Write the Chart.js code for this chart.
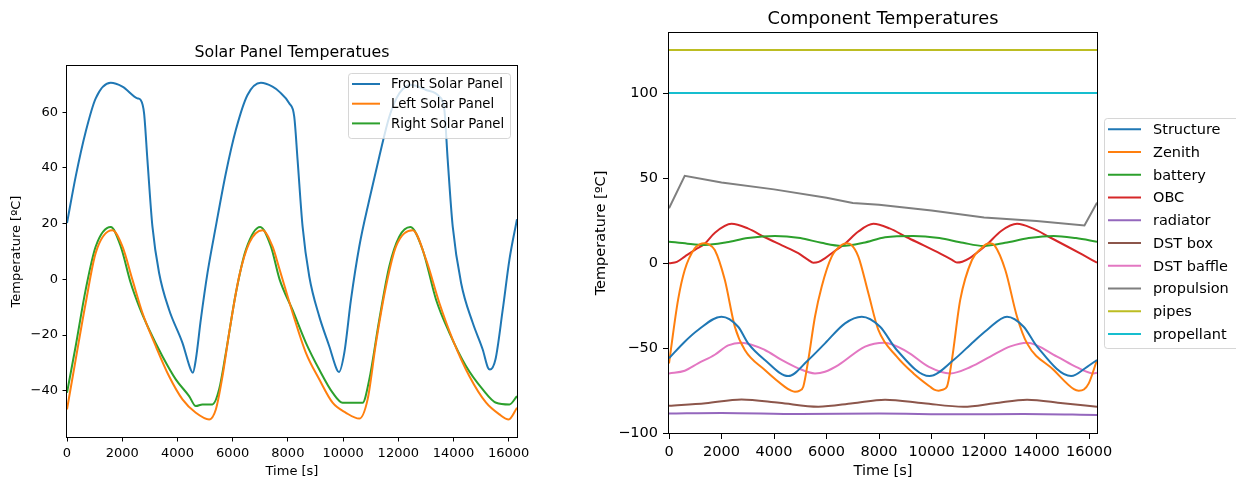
<!DOCTYPE html>
<html>
<head>
<meta charset="utf-8">
<script src="https://cdn.jsdelivr.net/npm/chart.js@4.4.1/dist/chart.umd.min.js"></script>
<style>
  html, body { margin: 0; padding: 0; background: #fff; }
  #wrap { position: relative; width: 1236px; height: 481px; overflow: hidden; }
  canvas { position: absolute; top: 0; }
  #solar { left: 0; }
  #comp { left: 590px; }
</style>
</head>
<body>
<div id="wrap">
  <canvas id="solar" width="590" height="481"></canvas>
  <canvas id="comp" width="646" height="481"></canvas>
</div>
<script>
// ---- data (time in s, temperature in degC) ----
var timeTicks = [0, 2000, 4000, 6000, 8000, 10000, 12000, 14000, 16000];
var solarTicks = [-40, -20, 0, 20, 40, 60];
var compTicks = [-100, -50, 0, 50, 100];

var solarLabels = ['Front Solar Panel', 'Left Solar Panel', 'Right Solar Panel'];
var compLabels = ['Structure', 'Zenith', 'battery', 'OBC', 'radiator', 'DST box', 'DST baffle', 'propulsion', 'pipes', 'propellant'];

var frontTime = [0, 314, 677, 1040, 1584, 2007, 2550, 2670, 2792, 2913, 3094, 3336, 3698, 4182, 4485, 4560, 4666, 4848, 5089, 5391, 5754, 6117, 6538, 7023, 7444, 7687, 8049, 8231, 8352, 8533, 8774, 9137, 9500, 9780, 9850, 10044, 10286, 10587, 10950, 11313, 11675, 12038, 12462, 13006, 13488, 13670, 13790, 13971, 14275, 14696, 15058, 15250, 15320, 15519, 15783, 16026, 16300];
var frontTemp = [20.2, 36.9, 53, 65, 70.6, 69.2, 65, 64.4, 59.6, 42.9, 19, 2.3, -10.9, -22.8, -32.5, -33.5, -28.8, -14.4, 2.3, 19, 38.1, 53.7, 66.2, 70.6, 69.2, 67.4, 63.2, 58.4, 42.9, 19, 1.1, -13.3, -24, -32.5, -33.3, -26.4, -7.3, 11.8, 28.6, 44.1, 58.4, 66.8, 69.8, 68, 65.6, 60.8, 42.9, 19, -1.3, -15.6, -25.2, -31.8, -32.4, -28.8, -10.9, 7.1, 21.6];

var leftTime = [0, 314, 677, 1040, 1644, 2007, 2369, 2731, 3215, 3698, 4182, 4666, 5149, 5391, 5632, 5874, 6237, 6599, 7083, 7444, 7687, 8171, 8654, 9137, 9620, 10104, 10587, 10889, 11192, 11555, 11918, 12520, 13006, 13488, 13971, 14576, 15181, 15664, 16000, 16300];
var leftTemp = [-46.7, -28.8, -8.5, 9.5, 17.6, 11.8, -0.1, -12, -24, -34.8, -43.1, -47.9, -50.3, -46.7, -34.8, -19.2, 1.1, 13, 17.6, 11.8, 4, -12, -26.4, -35.9, -44.3, -47.9, -50, -43.1, -22.8, -2.5, 11.8, 17.6, 7.1, -8.5, -21.6, -34.8, -44.3, -48.5, -50.3, -46.1];

var rightTime = [0, 314, 677, 1040, 1584, 1946, 2309, 2611, 2973, 3456, 3940, 4423, 4666, 4906, 5268, 5511, 5754, 6117, 6479, 6998, 7386, 7700, 8171, 8654, 9137, 9620, 9982, 10286, 10707, 10950, 11313, 11675, 12038, 12437, 12884, 13369, 13851, 14456, 15058, 15544, 16026, 16300];
var rightTemp = [-40.7, -24, -3.7, 11.8, 18.8, 11.8, -1.3, -9.7, -18, -27.6, -35.9, -41.9, -45.5, -44.9, -44.9, -39.5, -26.4, -4.9, 10.6, 18.8, 11.8, 0, -11, -22.8, -32.4, -40.7, -44.3, -44.3, -44.3, -35.9, -14.4, 4.7, 15.4, 18.8, 10.6, -7.3, -19.2, -31.2, -39.5, -44.3, -44.9, -41.9];

var structTime = [0, 599, 1107, 1998, 2633, 3014, 3651, 4541, 5304, 5941, 6704, 7341, 8039, 8675, 9920, 10836, 11598, 12110, 12873, 13507, 14017, 15315, 15925, 16300];
var structTemp = [-56, -46.2, -39.3, -31.5, -37.4, -47.2, -57, -66.5, -57, -47.2, -35.4, -31.5, -37.4, -51.1, -66.5, -57, -46.2, -39.3, -31.5, -37.4, -49.1, -66.5, -61, -57];

var zenithTime = [0, 345, 599, 980, 1180, 1336, 1500, 1744, 2125, 2507, 2888, 3651, 4414, 4620, 4796, 4980, 5113, 5304, 5559, 5814, 6196, 6600, 6768, 6930, 7211, 7593, 7974, 8675, 9310, 9947, 10100, 10263, 10420, 10583, 10774, 11091, 11537, 11900, 12080, 12236, 12400, 12808, 13254, 13636, 14651, 15420, 15605, 15800, 15986, 16300];
var zenithTemp = [-59, -21.6, -4, 8.8, 11.2, 11.8, 11.2, 7.8, -9.8, -37.4, -51.1, -62.9, -72.8, -74.8, -75.7, -75, -72.8, -57, -31.5, -13.8, 3.9, 11, 11.8, 11, 3.9, -17.7, -39.3, -55, -64.9, -72.8, -74.5, -75.1, -74.5, -72.8, -57, -21.6, 1.9, 8.8, 11.2, 11.8, 10.5, -4, -31.5, -47.2, -62.9, -74.2, -75.1, -74.4, -70.8, -57];

var batteryTime = [0, 700, 1362, 2200, 3000, 4033, 5000, 5800, 6577, 7400, 8230, 9310, 10300, 11200, 11980, 12800, 13700, 14651, 15500, 16300];
var batteryTemp = [12.7, 11.5, 10.8, 12.3, 14.8, 16.1, 14.8, 12, 10.2, 12, 15.3, 16.1, 14.8, 12, 10.2, 12, 14.8, 16.1, 14.8, 12.7];

var obcTime = [0, 300, 600, 1000, 1360, 1750, 2380, 3000, 3651, 4300, 4922, 5300, 5494, 5700, 5950, 6250, 6704, 7200, 7783, 8400, 9057, 9700, 10350, 10780, 10965, 11170, 11450, 11750, 12110, 12650, 13254, 13850, 14500, 15150, 15750, 16300];
var obcTemp = [0, 0.8, 3.9, 8, 11.5, 18, 23.2, 20.5, 15.3, 10.5, 5.9, 2, 0.3, 0.8, 3, 6.5, 11.5, 18.5, 23.2, 20.5, 15.3, 10.5, 5.5, 2, 0.4, 0.9, 3, 6.5, 11, 19, 23.2, 20.5, 15.3, 10, 5, 0.3];

var radiatorTime = [0, 2000, 5000, 8000, 11000, 13500, 16300];
var radiatorTemp = [-88.5, -88.2, -88.8, -88.5, -89, -88.8, -89.4];

var boxTime = [0, 1400, 2761, 4200, 5685, 7000, 8230, 9700, 11217, 12400, 13636, 15000, 16300];
var boxTemp = [-84, -82.5, -80.2, -82.2, -84.5, -82.5, -80.4, -82.5, -84.5, -82.5, -80.4, -82.5, -84.5];

var baffleTime = [0, 599, 1107, 1744, 2253, 2761, 3651, 4287, 4922, 5559, 5941, 6449, 7467, 8200, 9057, 9900, 10710, 11500, 12236, 13000, 13636, 14780, 15500, 16177, 16300];
var baffleTemp = [-64.9, -63.3, -59, -53.9, -48.4, -46.8, -51.1, -57, -61.9, -64.9, -63.9, -60, -49.1, -46.8, -52, -61, -64.9, -61, -55, -49, -46.8, -55, -61, -64.9, -64.5];

var propTime = [0, 599, 2000, 4000, 6000, 7000, 8000, 10000, 12000, 14000, 15822, 16300];
var propTemp = [32.4, 51.5, 47.5, 43.5, 38.5, 35.5, 34.4, 31, 27, 24.8, 22.2, 35.7];

var pipesTime = [0, 16300];
var pipesTemp = [125.6, 125.6];
var propellantTime = [0, 16300];
var propellantTemp = [100.2, 100.2];

var tab10 = ['#1f77b4', '#ff7f0e', '#2ca02c', '#d62728', '#9467bd', '#8c564b', '#e377c2', '#7f7f7f', '#bcbd22', '#17becf'];
var FONT = 'DejaVu Sans';

function pts(ts, vs) {
  return ts.map(function (t, i) { return { x: t, y: vs[i] }; });
}
function minus(v) {
  return String(v).replace('-', '\u2212');
}

// matplotlib-ish frame, title and legend
var mplPlugin = {
  id: 'mpl',
  afterDraw: function (chart, args, o) {
    var ctx = chart.ctx, a = chart.chartArea;
    ctx.save();
    ctx.strokeStyle = '#000';
    ctx.lineWidth = 1;
    ctx.strokeRect(a.left - 0.5, a.top - 0.5, a.right - a.left + 1, a.bottom - a.top + 1);

    ctx.fillStyle = '#000';
    ctx.font = o.titleSize + 'px "' + FONT + '"';
    ctx.textAlign = 'center';
    ctx.textBaseline = 'alphabetic';
    ctx.fillText(o.title, (a.left + a.right) / 2, o.titleY);

    var L = o.legend;
    ctx.beginPath();
    ctx.roundRect(L.x + 0.5, L.y + 0.5, L.w, L.h, 3);
    ctx.fillStyle = 'rgba(255,255,255,0.8)';
    ctx.fill();
    ctx.strokeStyle = 'rgba(204,204,204,0.8)';
    ctx.stroke();

    ctx.font = L.size + 'px "' + FONT + '"';
    ctx.textAlign = 'left';
    ctx.textBaseline = 'middle';
    chart.data.datasets.forEach(function (ds, i) {
      var y = L.rowY + i * L.gap;
      ctx.beginPath();
      ctx.strokeStyle = ds.borderColor;
      ctx.lineWidth = ds.borderWidth;
      ctx.moveTo(L.x0, y);
      ctx.lineTo(L.x1, y);
      ctx.stroke();
      ctx.fillStyle = '#000';
      ctx.fillText(ds.label, L.tx, y + 1);
    });
    ctx.restore();
  }
};

function axes(size, yTicks, yMin, yMax, yWidth, xHeight, tick, pad, yTitlePad, xTitlePad) {
  var f = { family: FONT, size: size };
  return {
    x: {
      type: 'linear', min: 0, max: 16300,
      afterBuildTicks: function (s) { s.ticks = timeTicks.map(function (v) { return { value: v }; }); },
      afterFit: function (s) { s.height = xHeight; },
      grid: { display: true, drawOnChartArea: false, drawTicks: true, tickLength: tick, tickColor: '#000' },
      border: { display: false },
      ticks: { color: '#000', font: f, padding: pad, autoSkip: false, maxRotation: 0, callback: function (v) { return minus(v); } },
      title: { display: true, text: 'Time [s]', color: '#000', font: f, padding: { top: 0, bottom: xTitlePad } }
    },
    y: {
      min: yMin, max: yMax,
      afterBuildTicks: function (s) { s.ticks = yTicks.map(function (v) { return { value: v }; }); },
      afterFit: function (s) { s.width = yWidth; },
      grid: { display: true, drawOnChartArea: false, drawTicks: true, tickLength: tick, tickColor: '#000' },
      border: { display: false },
      ticks: { color: '#000', font: f, padding: pad, callback: function (v) { return minus(v); } },
      title: { display: true, text: 'Temperature [ºC]', color: '#000', font: f, padding: { top: yTitlePad, bottom: 0 } }
    }
  };
}

function line(label, color, data, smooth) {
  return {
    label: label, data: data, borderColor: color, backgroundColor: color,
    borderWidth: 2, pointRadius: 0, fill: false,
    cubicInterpolationMode: smooth ? 'monotone' : 'default', tension: 0
  };
}

new Chart(document.getElementById('solar'), {
  type: 'line',
  data: {
    datasets: [
      line(solarLabels[0], tab10[0], pts(frontTime, frontTemp), true),
      line(solarLabels[1], tab10[1], pts(leftTime, leftTemp), true),
      line(solarLabels[2], tab10[2], pts(rightTime, rightTemp), true)
    ]
  },
  options: {
    responsive: false, animation: false, devicePixelRatio: 1,
    layout: { padding: { left: 0, top: 66, right: 73, bottom: 0 } },
    scales: axes(13, solarTicks, -56.6, 76.6, 67, 44, 4.5, 4.5, 8.7, 1.5),
    plugins: {
      legend: { display: false }, tooltip: { enabled: false },
      mpl: {
        title: 'Solar Panel Temperatues', titleSize: 15.8, titleY: 56.5,
        legend: { x: 348, y: 73, w: 162, h: 65, rowY: 84, gap: 19.7, x0: 352, x1: 380, tx: 391, size: 13.3 }
      }
    }
  },
  plugins: [mplPlugin]
}); //End chart

var compSeries = [
  [structTime, structTemp, true], [zenithTime, zenithTemp, true], [batteryTime, batteryTemp, true],
  [obcTime, obcTemp, true], [radiatorTime, radiatorTemp, true], [boxTime, boxTemp, true],
  [baffleTime, baffleTemp, true], [propTime, propTemp, false], [pipesTime, pipesTemp, false],
  [propellantTime, propellantTemp, false]
];

new Chart(document.getElementById('comp'), {
  type: 'line',
  data: {
    datasets: compSeries.map(function (s, i) { return line(compLabels[i], tab10[i], pts(s[0], s[1]), s[2]); })
  },
  options: {
    responsive: false, animation: false, devicePixelRatio: 1,
    layout: { padding: { left: 0, top: 33, right: 139, bottom: 0 } },
    scales: axes(14.5, compTicks, -100, 135.6, 79, 48, 6, 5, 2.8, 0.6),
    plugins: {
      legend: { display: false }, tooltip: { enabled: false },
      mpl: {
        title: 'Component Temperatures', titleSize: 17.8, titleY: 23.5,
        legend: { x: 514, y: 118, w: 200, h: 230, rowY: 129.3, gap: 22.74, x0: 518, x1: 551, tx: 563, size: 14.5 }
      }
    }
  },
  plugins: [mplPlugin]
});
</script>
</body>
</html>
